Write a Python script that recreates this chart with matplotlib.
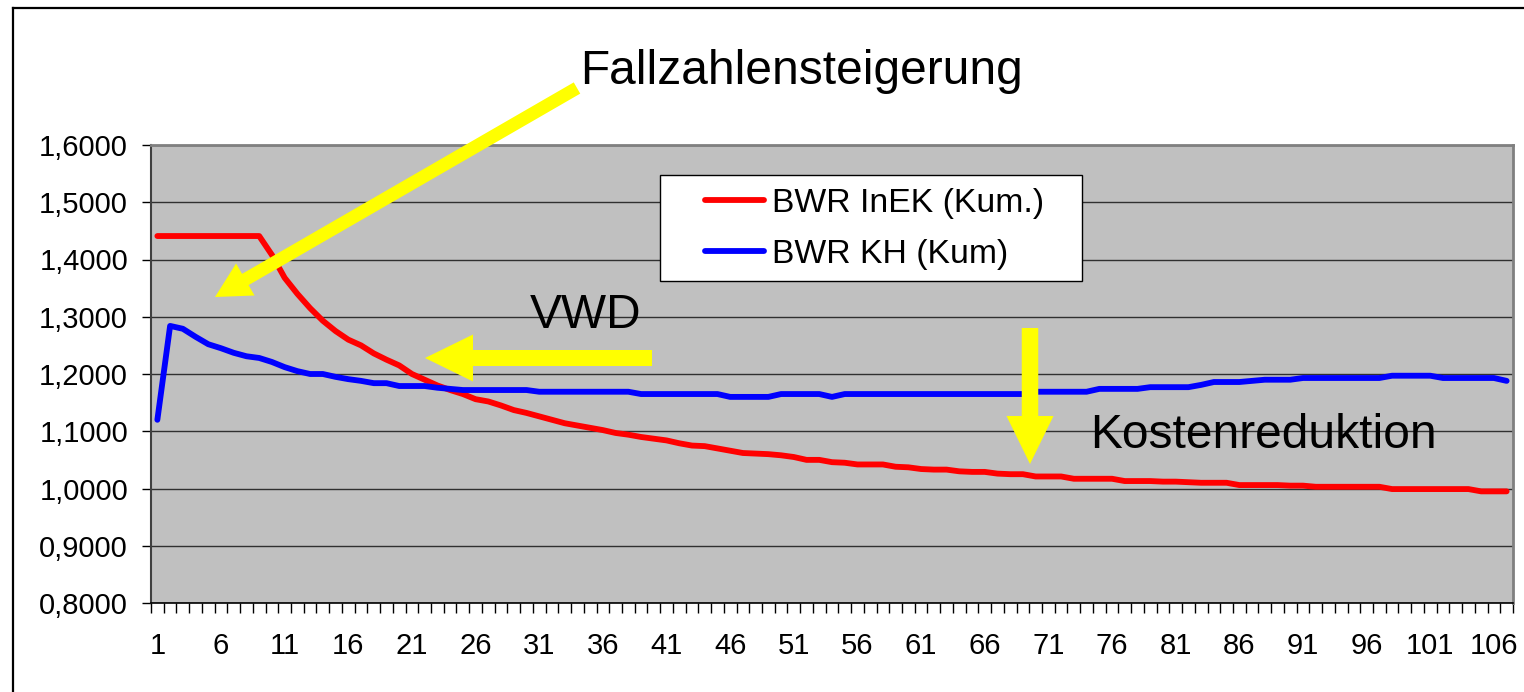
import matplotlib
matplotlib.use("Agg")
import matplotlib.pyplot as plt
from matplotlib.patches import FancyArrow, Rectangle
from matplotlib.lines import Line2D
from matplotlib.ticker import FixedLocator, FuncFormatter
import numpy as np

plt.rcParams['font.family'] = ['Liberation Sans', 'DejaVu Sans']

categories = list(range(1, 108))
xtick_labels = [str(c) for c in range(1, 107, 5)]

bwr_inek = [
    1.441, 1.441, 1.441, 1.441, 1.441, 1.441, 1.441, 1.441, 1.441, 1.408,
    1.368, 1.340, 1.315, 1.293, 1.275, 1.260, 1.250, 1.236, 1.225, 1.215,
    1.200, 1.190, 1.180, 1.172, 1.165, 1.156, 1.152, 1.145, 1.137, 1.132,
    1.126, 1.120, 1.114, 1.110, 1.106, 1.102, 1.097, 1.094, 1.090, 1.087,
    1.084, 1.079, 1.075, 1.074, 1.070, 1.066, 1.062, 1.061, 1.060, 1.058,
    1.055, 1.050, 1.050, 1.046, 1.045, 1.042, 1.042, 1.042, 1.038, 1.037,
    1.034, 1.033, 1.033, 1.030, 1.029, 1.029, 1.026, 1.025, 1.025, 1.021,
    1.021, 1.021, 1.017, 1.017, 1.017, 1.017, 1.013, 1.013, 1.013, 1.012,
    1.012, 1.011, 1.010, 1.010, 1.010, 1.006, 1.006, 1.006, 1.006, 1.005,
    1.005, 1.003, 1.003, 1.003, 1.003, 1.003, 1.003, 0.999, 0.999, 0.999,
    0.999, 0.999, 0.999, 0.999, 0.995, 0.995, 0.995,
]

bwr_kh = [
    1.120, 1.284, 1.279, 1.265, 1.252, 1.245, 1.237, 1.231, 1.228, 1.221,
    1.212, 1.205, 1.200, 1.200, 1.195, 1.191, 1.188, 1.184, 1.184, 1.179,
    1.179, 1.179, 1.176, 1.174, 1.172, 1.172, 1.172, 1.172, 1.172, 1.172,
    1.169, 1.169, 1.169, 1.169, 1.169, 1.169, 1.169, 1.169, 1.165, 1.165,
    1.165, 1.165, 1.165, 1.165, 1.165, 1.160, 1.160, 1.160, 1.160, 1.165,
    1.165, 1.165, 1.165, 1.160, 1.165, 1.165, 1.165, 1.165, 1.165, 1.165,
    1.165, 1.165, 1.165, 1.165, 1.165, 1.165, 1.165, 1.165, 1.165, 1.169,
    1.169, 1.169, 1.169, 1.169, 1.174, 1.174, 1.174, 1.174, 1.177, 1.177,
    1.177, 1.177, 1.181, 1.186, 1.186, 1.186, 1.188, 1.190, 1.190, 1.190,
    1.193, 1.193, 1.193, 1.193, 1.193, 1.193, 1.193, 1.197, 1.197, 1.197,
    1.197, 1.193, 1.193, 1.193, 1.193, 1.193, 1.188,
]

yticks = [0.8, 0.9, 1.0, 1.1, 1.2, 1.3, 1.4, 1.5, 1.6]

W, H = 1524, 692
fig = plt.figure(figsize=(W / 100, H / 100), dpi=100)

def fx(px):
    return px / W

def fy(py):
    return 1 - py / H

ax = fig.add_axes([fx(151), fy(603), (1513 - 151) / W, (603 - 145) / H])
ax.set_facecolor('#C0C0C0')

ax.plot(categories, bwr_inek, color='#FF0000', lw=4.2, solid_capstyle='round',
        solid_joinstyle='round', label='BWR InEK (Kum.)', zorder=3)
ax.plot(categories, bwr_kh, color='#0000FF', lw=4.2, solid_capstyle='round',
        solid_joinstyle='round', label='BWR KH (Kum)', zorder=3)

ax.set_xlim(0.5, len(categories) + 0.5)
ax.set_ylim(0.8, 1.6)
ax.set_yticks(yticks)
ax.yaxis.set_major_formatter(FuncFormatter(lambda v, p: f"{v:.4f}".replace('.', ',')))
ax.yaxis.grid(True, color='#303030', lw=1.0)
ax.set_axisbelow(True)

ax.set_xticks([int(s) for s in xtick_labels])
ax.set_xticklabels(xtick_labels)
ax.xaxis.set_minor_locator(FixedLocator(np.arange(0.5, len(categories) + 1, 1.0)))
ax.tick_params(axis='x', which='major', length=0, pad=21, labelsize=21)
ax.tick_params(axis='x', which='minor', length=7.2, width=1, color='black', direction='out')
ax.tick_params(axis='y', which='major', length=6.5, width=1, pad=10, labelsize=21,
               color='black')

for s in ['top', 'right']:
    ax.spines[s].set_color('#808080')
    ax.spines[s].set_linewidth(2)
ax.spines['left'].set_color('#404040')
ax.spines['left'].set_linewidth(1.5)
ax.spines['bottom'].set_color('black')
ax.spines['bottom'].set_linewidth(1.2)

# legend box
box = Rectangle((fx(660), fy(281)), (1082 - 660) / W, (281 - 175) / H,
                transform=fig.transFigure, facecolor='white', edgecolor='black',
                lw=1.0, zorder=4)
ax.add_patch(box)
leg = ax.legend(loc='upper left', bbox_to_anchor=(fx(705), fy(188)),
                bbox_transform=fig.transFigure, frameon=False, fontsize=24.3,
                handlelength=1.75, handletextpad=0.24, borderpad=0,
                borderaxespad=0, labelspacing=0.6)
leg.set_zorder(5)

# overlay for annotations (pixel coordinates)
ov = fig.add_axes([0, 0, 1, 1])
ov.set_xlim(0, W)
ov.set_ylim(H, 0)
ov.axis('off')
ov.patch.set_alpha(0)

ov.add_line(Line2D([13, 13], [8, H], color='black', lw=1.6))
ov.add_line(Line2D([13, W], [8, 8], color='black', lw=1.6))

yellow = '#FFFF00'
ov.add_patch(FancyArrow(577, 88, 215 - 577, 297 - 88, width=13, head_width=37,
                        head_length=35, length_includes_head=True,
                        color=yellow, lw=0))
ov.add_patch(FancyArrow(652, 358, 425 - 652, 0, width=16, head_width=47,
                        head_length=48, length_includes_head=True,
                        color=yellow, lw=0))
ov.add_patch(FancyArrow(1030, 328, 0, 464 - 328, width=16.5, head_width=47,
                        head_length=48, length_includes_head=True,
                        color=yellow, lw=0))

ov.text(580, 84, 'Fallzahlensteigerung', fontsize=34.5, va='baseline', ha='left')
ov.text(530, 328, 'VWD', fontsize=34.5, va='baseline', ha='left')
ov.text(1090, 448, 'Kostenreduktion', fontsize=34.5, va='baseline', ha='left')

fig.savefig('out.png', dpi=100)
